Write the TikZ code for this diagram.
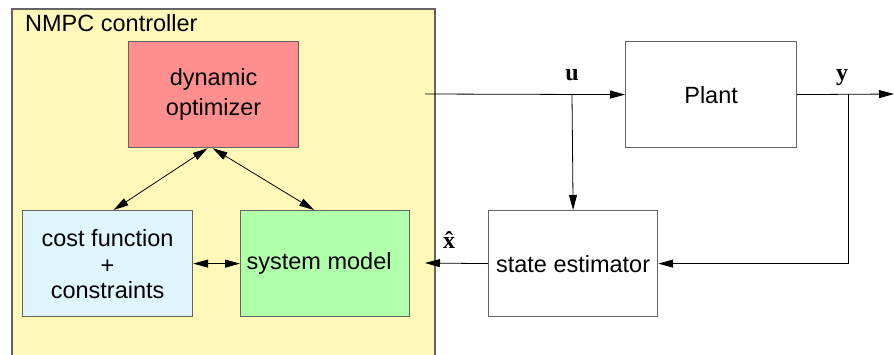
\documentclass[tikz,border=0pt]{standalone}
\usepackage[no-math]{fontspec}
\setmainfont{Liberation Sans}
\newfontfamily\sigfont{Liberation Serif}
\usetikzlibrary{arrows.meta}
\definecolor{ctrlbg}{RGB}{255,248,184}
\definecolor{optfill}{RGB}{255,143,143}
\definecolor{costfill}{RGB}{224,246,255}
\definecolor{sysfill}{RGB}{176,255,170}
\definecolor{edge}{RGB}{100,100,100}
\begin{document}
\begin{tikzpicture}[x=1pt,y=-1pt,
  txt/.style={font=\fontsize{23.5}{30}\selectfont},
  blk/.style={draw=edge, line width=1.2pt, inner sep=0pt, anchor=north west,
    align=center, txt},
  tip/.tip={Triangle[length=15pt,width=8pt]},
  conn/.style={line width=0.8pt, -tip},
  biconn/.style={line width=0.8pt, tip-tip},
  sig/.style={font=\fontsize{24}{28}\sigfont\bfseries, inner sep=1pt}]
\clip (0,0) rectangle (894,354);
\fill[white] (0,0) rectangle (894,354);

% controller frame (runs off the bottom edge)
\draw[fill=ctrlbg, draw=edge, line width=1.2pt] (12,9) rectangle (435,380);
\node[txt, anchor=base west, inner sep=0pt] (title) at (25,31) {NMPC controller};

% blocks inside the controller
\node[blk, fill=optfill, minimum width=170pt, minimum height=106pt] (opt) at (128,41)
  {dynamic\\optimizer};
\node[blk, fill=costfill, minimum width=170pt, minimum height=106pt] (cost) at (22,210)
  {cost function\\[-3pt]+\\[-5pt]constraints};
\node[blk, fill=sysfill, minimum width=169pt, minimum height=106pt] (sys) at (240,210)
  {system model\hspace*{12pt}};

% blocks outside the controller
\node[blk, minimum width=171pt, minimum height=106pt] (plant) at (625,41) {Plant};
\node[blk, minimum width=169pt, minimum height=106pt] (est) at (488,210)
  {state estimator};

% internal couplings
\draw[biconn] ([xshift=-6pt]opt.south) -- ([xshift=6pt]cost.north);
\draw[biconn] ([xshift=-1pt]opt.south) -- ([xshift=-11pt]sys.north);
\draw[biconn] (cost.east) -- (sys.west);

% signal paths
\coordinate (uin) at (425,94);
\coordinate (ubr) at (572,94);
\coordinate (ybr) at (848,94);
\coordinate (yout) at (894,94);
\coordinate (xin) at (425,263);
\draw[conn] (uin) -- (plant.west);
\draw[conn] (ubr) -- (est.north);
\draw[conn] (plant.east) -- (yout);
\draw[conn] (ybr) |- (est.east);
\draw[conn] (est.west) -- (xin);

% signal labels
\node[sig, anchor=base] (ulbl) at (572,80) {u};
\node[sig, anchor=base] (ylbl) at (842,80) {y};
\node[sig, anchor=base] (xlbl) at (449,248) {\accent"02C6 x};
\end{tikzpicture}
\end{document}
